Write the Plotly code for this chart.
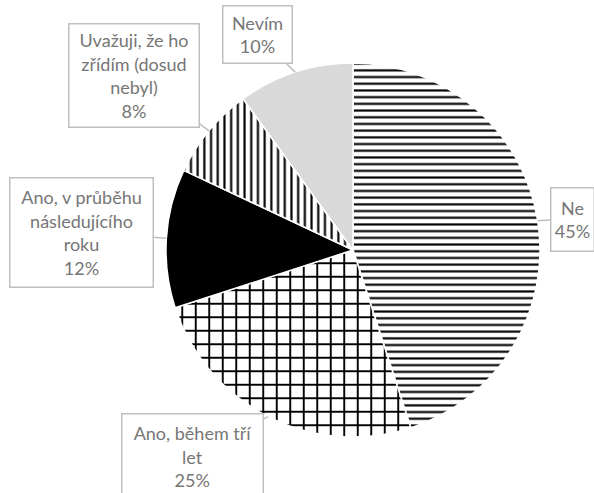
import math
import plotly.graph_objects as go

labels = ["Ne", "Ano, během tří let", "Ano, v průběhu následujícího roku",
          "Uvažuji, že ho zřídím (dosud nebyl)", "Nevím"]
values = [45, 25, 12, 8, 10]
callout_text = ["Ne<br>45%", "Ano, během tří<br>let<br>25%",
                "Ano, v průběhu<br>následujícího<br>roku<br>12%",
                "Uvažuji, že ho<br>zřídím (dosud<br>nebyl)<br>8%", "Nevím<br>10%"]

W, H = 594, 493
cx, cy, r = 353, 250, 187

fig = go.Figure(go.Pie(
    labels=labels, values=values, sort=False, direction="clockwise", rotation=0,
    textinfo="none", hoverinfo="label+percent",
    marker=dict(
        colors=["white", "white", "black", "white", "#d9d9d9"],
        line=dict(color="white", width=1.5),
        pattern=dict(
            shape=["-", "+", "", "|", ""],
            size=[6.7, 13.5, 8, 6.7, 8],
            solidity=[0.32, 0.26, 0.3, 0.32, 0.3],
            fgcolor=["black", "black", "black", "black", "#d9d9d9"],
            bgcolor=["white", "white", "black", "white", "#d9d9d9"],
            fillmode="replace",
        ),
    ),
    domain=dict(x=[(cx - r) / W, (cx + r) / W], y=[(H - cy - r) / H, (H - cy + r) / H]),
))

# callout boxes: (box center x, box center y, width, height) in pixels
box_pos = [(572, 219, 42, 62), (192, 456, 140, 84), (81, 232, 142, 108),
           (134.5, 75, 129, 102), (257, 35, 68, 56)]
total = sum(values)
cum = 0
for v, txt, (bx, by, bw, bh) in zip(values, callout_text, box_pos):
    mid = (cum + v / 2) / total * 2 * math.pi
    cum += v
    tx = cx + r * math.sin(mid)
    ty = cy - r * math.cos(mid)
    fig.add_annotation(
        x=tx / W, y=1 - ty / H, xref="paper", yref="paper",
        ax=bx - tx, ay=by - ty, axref="pixel", ayref="pixel",
        text=txt, showarrow=True, arrowhead=0, arrowwidth=1.5, arrowcolor="#bfbfbf",
        font=dict(family="Lato", size=18, color="#767676"),
        bordercolor="#bfbfbf", borderwidth=1.5, bgcolor="white", borderpad=0,
        width=bw, height=bh, align="center", valign="middle",
    )

fig.update_layout(
    width=W, height=H, margin=dict(l=0, r=0, t=0, b=0),
    paper_bgcolor="white", plot_bgcolor="white", showlegend=False,
)
fig.write_html("out.html", config={"displayModeBar": False},
               post_script="document.body.style.margin='0';")
